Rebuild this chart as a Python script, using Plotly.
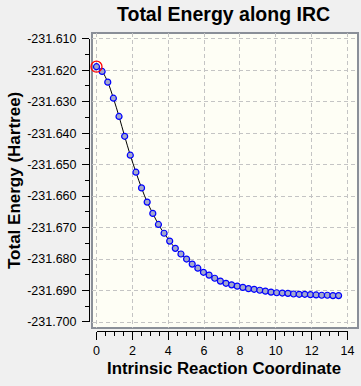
import plotly.graph_objects as go

# Intrinsic reaction coordinate values
irc_x = [0.000, 0.314, 0.628, 0.942, 1.256, 1.570, 1.884, 2.198, 2.512, 2.826,
         3.140, 3.454, 3.768, 4.082, 4.396, 4.710, 5.024, 5.338, 5.652, 5.966,
         6.280, 6.594, 6.908, 7.222, 7.536, 7.850, 8.164, 8.478, 8.792, 9.106,
         9.420, 9.734, 10.048, 10.362, 10.676, 10.990, 11.304, 11.618, 11.932, 12.246,
         12.560, 12.874, 13.188, 13.502]
# Total energy (Hartree)
energy = [-231.6189, -231.6204, -231.6238, -231.6289, -231.6347, -231.6410, -231.6470,
          -231.6524, -231.6574, -231.6619, -231.6655, -231.6690, -231.6718, -231.6743,
          -231.6766, -231.6784, -231.6800, -231.6816, -231.6829, -231.6842, -231.6851,
          -231.6861, -231.6870, -231.6877, -231.6882, -231.6886, -231.6890, -231.6894,
          -231.6896, -231.6899, -231.6902, -231.6905, -231.6907, -231.6908, -231.6909,
          -231.6911, -231.6912, -231.6912, -231.6913, -231.6914, -231.6915, -231.6915,
          -231.6916, -231.6916]
ts_index = 0

y_tickvals = [-231.700, -231.690, -231.680, -231.670, -231.660, -231.650,
              -231.640, -231.630, -231.620, -231.610]
y_ticktext = ["-231.700", "-231.690", "-231.680", "-231.670", "-231.660", "-231.650",
              "-231.640", "-231.630", "-231.620", "-231.610"]
x_tickvals = [0, 2, 4, 6, 8, 10, 12, 14]

title_text = "Total Energy along IRC"
x_title = "Intrinsic Reaction Coordinate"
y_title = "Total Energy (Hartree)"

W, H = 361, 386
FONT = "Liberation Sans, Arial, sans-serif"

def px_x(p):
    return p / W

def px_y(p):
    return 1 - p / H

# plot box in pixels
bx0, bx1, by0, by1 = 92, 358, 33, 328
# axis pixel mapping
x0px, xscale = 96.5, 17.93
y610px, yscale = 38.7, 3148.0

xr = [(bx0 - x0px) / xscale, (bx1 - x0px) / xscale]
yr = [-231.610 - (by1 - y610px) / yscale, -231.610 + (y610px - by0) / yscale]

fig = go.Figure()

fig.add_trace(go.Scatter(
    x=irc_x, y=energy, mode="lines+markers",
    line=dict(color="black", width=1, shape="spline"),
    marker=dict(symbol="circle", size=6, color="#a3a8cc",
                line=dict(color="#0000ff", width=1.2)),
    cliponaxis=False, showlegend=False, hoverinfo="x+y"))

fig.add_trace(go.Scatter(
    x=[irc_x[ts_index]], y=[energy[ts_index]], mode="markers",
    marker=dict(symbol="circle-open", size=11, color="#ff0000",
                line=dict(color="#ff0000", width=1.3)),
    cliponaxis=False, showlegend=False, hoverinfo="skip"))

# dummy trace for detached axes
fig.add_trace(go.Scatter(x=[None], y=[None], xaxis="x2", yaxis="y2",
                         showlegend=False, hoverinfo="skip"))

grid = dict(showgrid=True, gridcolor="#c4c4c4", gridwidth=1, griddash="4px,3px",
            zeroline=False, showticklabels=False, ticks="", showline=False,
            automargin=False)

fig.update_layout(
    width=W, height=H,
    margin=dict(l=0, r=0, t=0, b=0, autoexpand=False),
    paper_bgcolor="#f0f0f0",
    plot_bgcolor="rgba(0,0,0,0)",
    font=dict(family=FONT, color="black", size=12),
    xaxis=dict(domain=[px_x(bx0), px_x(bx1)], range=xr, dtick=2, tick0=0,
               anchor="y", **grid),
    yaxis=dict(domain=[px_y(by1), px_y(by0)], range=yr, dtick=0.01, tick0=-231.70,
               anchor="x", **grid),
    xaxis2=dict(domain=[px_x(x0px), px_x(x0px + 14 * xscale)], range=[-0.0001, 14.0001],
                anchor="free", position=px_y(331), side="bottom", automargin=False,
                showgrid=False, zeroline=False, showline=True, linecolor="black", linewidth=1,
                ticks="outside", ticklen=8, tickwidth=1, tickcolor="black",
                tickmode="array", tickvals=x_tickvals,
                tickfont=dict(size=12.5, family=FONT),
                minor=dict(dtick=0.5, tick0=0, ticks="outside", ticklen=4,
                           tickcolor="black", showgrid=False)),
    yaxis2=dict(domain=[px_y(y610px + 0.09 * yscale), px_y(y610px)],
                range=[-231.70001, -231.60999],
                anchor="free", position=px_x(89), side="left", automargin=False,
                showgrid=False, zeroline=False, showline=True, linecolor="black", linewidth=1,
                ticks="outside", ticklen=7, tickwidth=1, tickcolor="black",
                tickmode="array", tickvals=y_tickvals, ticktext=y_ticktext,
                tickfont=dict(size=12.5, family=FONT), ticklabelstandoff=3,
                minor=dict(dtick=0.005, tick0=-231.70, ticks="outside", ticklen=4,
                           tickcolor="black", showgrid=False)),
    shapes=[dict(type="rect", xref="paper", yref="paper",
                 x0=px_x(bx0), x1=px_x(bx1), y0=px_y(by1), y1=px_y(by0),
                 fillcolor="#fefef5", line=dict(color="#8a8f98", width=2), layer="below")],
    annotations=[
        dict(text="<b>" + title_text + "</b>", xref="paper", yref="paper",
             x=px_x(224), y=px_y(14), showarrow=False, font=dict(size=19.5, family=FONT),
             xanchor="center", yanchor="middle"),
        dict(text="<b>" + x_title + "</b>", xref="paper", yref="paper",
             x=px_x(224.5), y=px_y(368.5), showarrow=False, font=dict(size=16.8, family=FONT),
             xanchor="center", yanchor="middle"),
        dict(text="<b>" + y_title + "</b>", xref="paper", yref="paper",
             x=px_x(14.5), y=px_y(180.5), showarrow=False, font=dict(size=17, family=FONT),
             textangle=-90, xanchor="center", yanchor="middle"),
    ],
)

fig.write_html(
    "out.html",
    config={"displayModeBar": False},
    post_script="document.body.style.margin='0';document.body.style.background='#f0f0f0';",
)
